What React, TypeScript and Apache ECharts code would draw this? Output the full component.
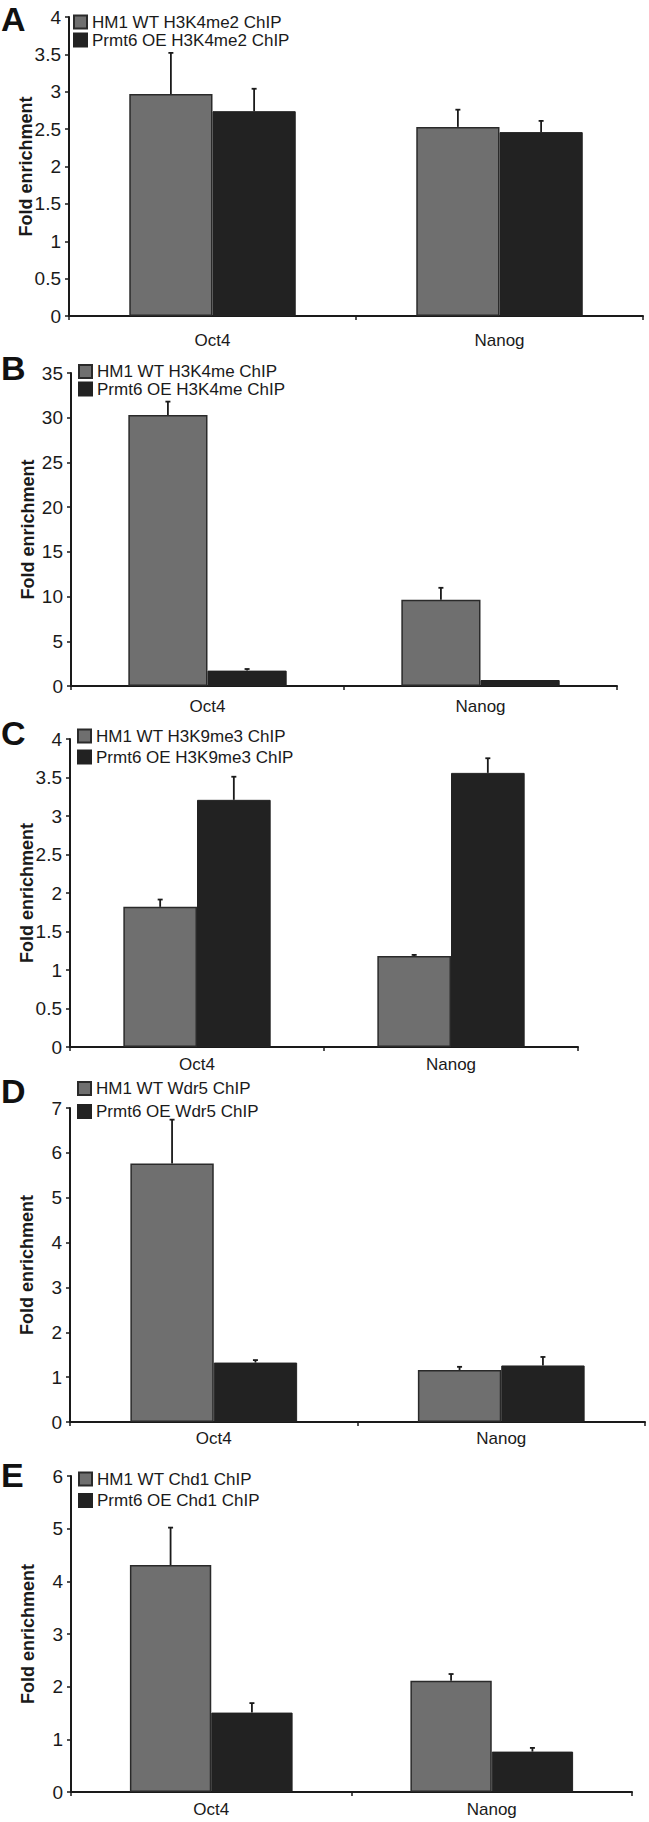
import React, { useEffect, useRef } from "react";
import * as echarts from "echarts";

const categories = ["Oct4", "Nanog"];
const yTitle = "Fold enrichment";
const panelLetters = ["A", "B", "C", "D", "E"];

// Panel A
const aWtName = "HM1 WT H3K4me2 ChIP";
const aOeName = "Prmt6 OE H3K4me2 ChIP";
const aWt = [2.97, 2.53];
const aWtErr = [0.55, 0.23];
const aOe = [2.74, 2.46];
const aOeErr = [0.3, 0.15];

// Panel B
const bWtName = "HM1 WT H3K4me ChIP";
const bOeName = "Prmt6 OE H3K4me ChIP";
const bWt = [30.3, 9.64];
const bWtErr = [1.5, 1.34];
const bOe = [1.72, 0.67];
const bOeErr = [0.18, 0];

// Panel C
const cWtName = "HM1 WT H3K9me3 ChIP";
const cOeName = "Prmt6 OE H3K9me3 ChIP";
const cWt = [1.82, 1.183];
const cWtErr = [0.095, 0.013];
const cOe = [3.21, 3.56];
const cOeErr = [0.3, 0.19];

// Panel D
const dWtName = "HM1 WT Wdr5 ChIP";
const dOeName = "Prmt6 OE Wdr5 ChIP";
const dWt = [5.76, 1.16];
const dWtErr = [0.98, 0.07];
const dOe = [1.325, 1.26];
const dOeErr = [0.055, 0.19];

// Panel E
const eWtName = "HM1 WT Chd1 ChIP";
const eOeName = "Prmt6 OE Chd1 ChIP";
const eWt = [4.31, 2.11];
const eWtErr = [0.71, 0.13];
const eOe = [1.508, 0.767];
const eOeErr = [0.18, 0.07];

// y-axis scales
const yMax = [4, 35, 4, 7, 6];
const yInterval = [0.5, 5, 0.5, 1, 1];

// layout (pixels)
const grids = [
  { left: 69, top: 17, width: 574, height: 299 },
  { left: 71, top: 373, width: 546, height: 313 },
  { left: 70, top: 739, width: 508, height: 308 },
  { left: 70, top: 1108, width: 575, height: 314 },
  { left: 71, top: 1476, width: 561, height: 316 },
];
const legendPos = [
  { left: 73, top: 13.5, itemGap: 1 },
  { left: 78, top: 363, itemGap: 0.5 },
  { left: 77, top: 727.5, itemGap: 4 },
  { left: 77, top: 1080, itemGap: 6 },
  { left: 78, top: 1470.5, itemGap: 4.5 },
];
const xLabelMargin = [16, 12, 9, 8, 9];
const letterY = [18.5, 367.5, 732.5, 1090.5, 1475];

const GAP = 0.42;
const FONT = "'Liberation Sans', Arial, Helvetica, sans-serif";
const INK = "#1a1a1a";
const GRAY = "#6f6f6f";
const BLACK = "#222222";

type Panel = {
  wtName: string;
  oeName: string;
  wt: number[];
  wtErr: number[];
  oe: number[];
  oeErr: number[];
};

const panels: Panel[] = [
  { wtName: aWtName, oeName: aOeName, wt: aWt, wtErr: aWtErr, oe: aOe, oeErr: aOeErr },
  { wtName: bWtName, oeName: bOeName, wt: bWt, wtErr: bWtErr, oe: bOe, oeErr: bOeErr },
  { wtName: cWtName, oeName: cOeName, wt: cWt, wtErr: cWtErr, oe: cOe, oeErr: cOeErr },
  { wtName: dWtName, oeName: dOeName, wt: dWt, wtErr: dWtErr, oe: dOe, oeErr: dOeErr },
  { wtName: eWtName, oeName: eOeName, wt: eWt, wtErr: eWtErr, oe: eOe, oeErr: eOeErr },
];

function errorSeries(i: number, vals: number[], errs: number[], side: number) {
  return {
    type: "custom",
    xAxisIndex: i,
    yAxisIndex: i,
    z: 5,
    silent: true,
    encode: { x: 0, y: 1 },
    data: vals.map((v, k) => [k, v, errs[k]]),
    renderItem: (_params: any, api: any) => {
      const ci = api.value(0);
      const v = api.value(1);
      const e = api.value(2);
      if (!(e > 0)) return null;
      const base = api.coord([ci, v]);
      const top = api.coord([ci, v + e]);
      const catW = api.size([1, 0])[0];
      const bw = (catW * (1 - GAP)) / 2;
      const x = base[0] + (side * bw) / 2;
      const st = { stroke: INK, lineWidth: 1.8 };
      return {
        type: "group",
        children: [
          { type: "line", shape: { x1: x, y1: base[1], x2: x, y2: top[1] }, style: st },
          { type: "line", shape: { x1: x - 2.5, y1: top[1], x2: x + 2.5, y2: top[1] }, style: st },
        ],
      };
    },
  };
}

function buildOption() {
  const grid: any[] = [];
  const xAxis: any[] = [];
  const yAxis: any[] = [];
  const legend: any[] = [];
  const series: any[] = [];
  const graphic: any[] = [];

  panels.forEach((p, i) => {
    grid.push({ ...grids[i], containLabel: false });
    xAxis.push({
      type: "category",
      gridIndex: i,
      data: categories,
      axisLine: { show: true, lineStyle: { color: INK, width: 2 } },
      axisTick: { show: true, length: 4, lineStyle: { color: INK, width: 1.5 } },
      axisLabel: { fontSize: 17, color: INK, fontFamily: FONT, margin: xLabelMargin[i] },
      splitLine: { show: false },
    });
    yAxis.push({
      type: "value",
      gridIndex: i,
      min: 0,
      max: yMax[i],
      interval: yInterval[i],
      axisLine: { show: true, lineStyle: { color: INK, width: 2 } },
      axisTick: { show: true, length: 4, lineStyle: { color: INK, width: 1.5 } },
      axisLabel: { fontSize: 19, color: INK, fontFamily: FONT, margin: 8 },
      splitLine: { show: false },
      name: yTitle,
      nameLocation: "middle",
      nameGap: 34,
      nameMoveOverlap: false,
      nameTextStyle: { fontSize: 18, fontWeight: "bold", color: INK, fontFamily: FONT },
    });
    legend.push({
      orient: "vertical",
      left: legendPos[i].left,
      top: legendPos[i].top,
      itemGap: legendPos[i].itemGap,
      itemWidth: 13,
      itemHeight: 13,
      padding: 0,
      icon: "rect",
      selectedMode: false,
      data: [p.wtName, p.oeName],
      textStyle: { fontSize: 17, color: INK, fontFamily: FONT },
    });
    series.push({
      type: "bar",
      name: p.wtName,
      xAxisIndex: i,
      yAxisIndex: i,
      data: p.wt,
      barGap: "0%",
      barCategoryGap: GAP * 100 + "%",
      itemStyle: { color: GRAY, borderColor: "#2a2a2a", borderWidth: 1.5 },
    });
    series.push({
      type: "bar",
      name: p.oeName,
      xAxisIndex: i,
      yAxisIndex: i,
      data: p.oe,
      barGap: "0%",
      barCategoryGap: GAP * 100 + "%",
      itemStyle: { color: BLACK, borderColor: BLACK, borderWidth: 1 },
    });
    series.push(errorSeries(i, p.wt, p.wtErr, -1));
    series.push(errorSeries(i, p.oe, p.oeErr, 1));
    graphic.push({
      type: "text",
      x: 1,
      y: letterY[i],
      style: {
        text: panelLetters[i],
        font: "bold 34px " + FONT,
        fill: "#111",
        verticalAlign: "middle",
        align: "left",
      },
    });
  });

  return {
    animation: false,
    backgroundColor: "#ffffff",
    grid,
    xAxis,
    yAxis,
    legend,
    series,
    graphic,
  };
}

export default function App() {
  const ref = useRef<HTMLDivElement>(null);
  useEffect(() => {
    if (!ref.current) return;
    const chart = echarts.init(ref.current, null, { renderer: "svg" });
    chart.setOption(buildOption() as any);
    return () => chart.dispose();
  }, []);
  return (
    <div
      ref={ref}
      style={{ position: "absolute", left: 0, top: 0, width: 649, height: 1822, background: "#fff" }}
    />
  );
}
